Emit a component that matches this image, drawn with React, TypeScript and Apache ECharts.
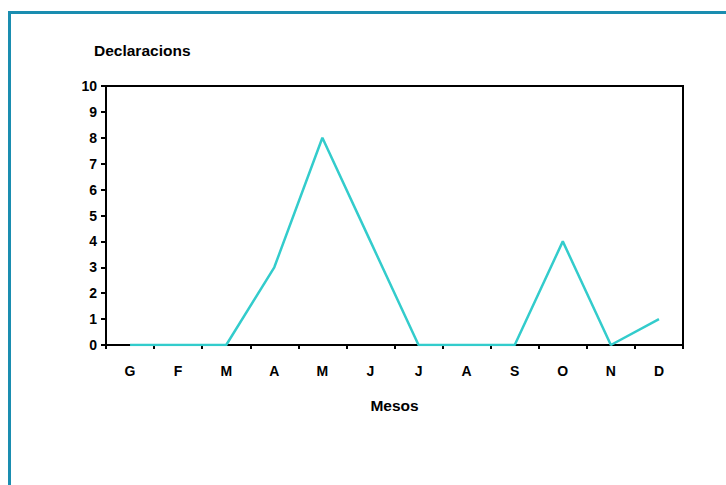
import React, { useEffect, useRef } from "react";
import * as echarts from "echarts";

const months = ["G", "F", "M", "A", "M", "J", "J", "A", "S", "O", "N", "D"];
const declaracions = [0, 0, 0, 3, 8, 4, 0, 0, 0, 4, 0, 1];
const yTitle = "Declaracions";
const xTitle = "Mesos";

export default function App() {
  const ref = useRef<HTMLDivElement>(null);
  useEffect(() => {
    if (!ref.current) return;
    const chart = echarts.init(ref.current, null, { renderer: "svg" });
    const font = "'Liberation Sans', Arial, sans-serif";
    chart.setOption({
      animation: false,
      backgroundColor: "#ffffff",
      textStyle: { fontFamily: font },
      graphic: [
        {
          type: "rect",
          shape: { x: 9.5, y: 12.5, width: 900, height: 700 },
          style: { fill: "none", stroke: "#1a8db0", lineWidth: 3 },
          silent: true,
          z: 0,
        },
        {
          type: "text",
          left: 94,
          top: 42,
          style: {
            text: yTitle,
            font: `bold 15.5px ${font}`,
            fill: "#000",
          },
        },
      ],
      grid: { left: 106, top: 86, right: 43, bottom: 140, show: true, borderColor: "#000", borderWidth: 2, backgroundColor: "transparent" },
      xAxis: {
        type: "category",
        data: months,
        boundaryGap: true,
        name: xTitle,
        nameLocation: "middle",
        nameGap: 52,
        nameTextStyle: { fontWeight: "bold", fontSize: 15.5, color: "#000", fontFamily: font },
        axisLine: { lineStyle: { color: "#000", width: 2 } },
        axisTick: { show: true, alignWithLabel: false, length: 4, lineStyle: { color: "#000", width: 2 } },
        axisLabel: { color: "#000", fontWeight: "bold", fontSize: 14, margin: 19, fontFamily: font },
        splitLine: { show: false },
      },
      yAxis: {
        type: "value",
        min: 0,
        max: 10,
        interval: 1,
        axisLine: { show: true, lineStyle: { color: "#000", width: 2 } },
        axisTick: { show: true, length: 5, lineStyle: { color: "#000", width: 2 } },
        axisLabel: { color: "#000", fontWeight: "bold", fontSize: 14, margin: 9, fontFamily: font },
        splitLine: { show: false },
      },
      series: [
        {
          type: "line",
          data: declaracions,
          symbol: "none",
          lineStyle: { color: "#33cccc", width: 2.5 },
          z: 5,
        },
      ],
    });
    return () => chart.dispose();
  }, []);
  return (
    <div
      ref={ref}
      style={{ position: "fixed", left: 0, top: 0, width: 726, height: 485 }}
    />
  );
}
